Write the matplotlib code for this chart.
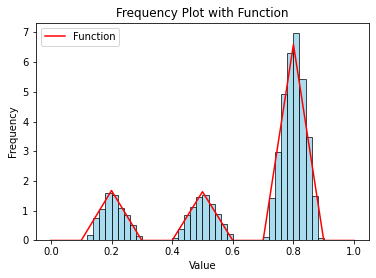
import numpy as np
import matplotlib
matplotlib.use("Agg")
import matplotlib.pyplot as plt

# histogram bins (density values)
bin_edges = np.linspace(0, 1, 51)
density = [
    0, 0, 0, 0, 0, 0,
    0.18, 0.75, 1.06, 1.60, 1.53, 1.09, 0.85, 0.52, 0.15,
    0, 0, 0, 0, 0,
    0.07, 0.38, 0.85, 1.12, 1.46, 1.53, 1.22, 0.89, 0.55, 0.22,
    0, 0, 0, 0, 0,
    0.11, 1.44, 2.99, 4.94, 6.31, 6.98, 5.43, 3.48, 1.50, 0.09,
    0, 0, 0, 0, 0,
]

# function curve
func_x = [0.0, 0.1, 0.2, 0.3, 0.4, 0.5, 0.6, 0.7, 0.8, 0.9, 1.0]
func_y = [0, 0, 1.68, 0, 0, 1.64, 0, 0, 6.59, 0, 0]

fig = plt.figure(figsize=(376 / 72, 278 / 72), dpi=72)
ax = fig.add_axes([0.095, 0.135, 0.887, 0.784])

centers = (bin_edges[:-1] + bin_edges[1:]) / 2
ax.hist(centers, bins=bin_edges, weights=density, color="skyblue",
        edgecolor="black", alpha=0.7)
ax.plot(func_x, func_y, color="red", label="Function")

ax.set_title("Frequency Plot with Function")
ax.set_xlabel("Value")
ax.set_ylabel("Frequency")
ax.legend(loc="upper left")

fig.savefig("out.png", dpi=72)
